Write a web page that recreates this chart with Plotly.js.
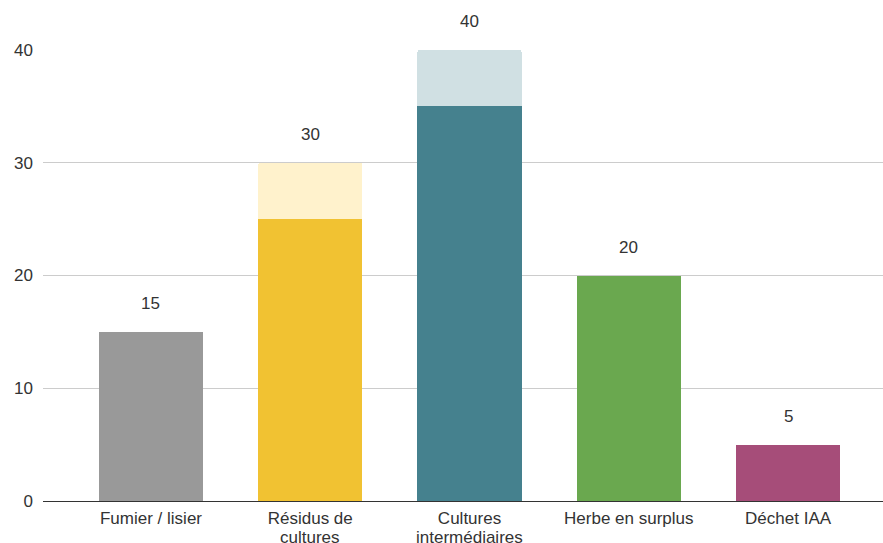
<!DOCTYPE html>
<html><head><meta charset="utf-8">
<script src="https://cdn.plot.ly/plotly-3.0.1.min.js"></script>
<style>body{margin:0;background:#fff}#chart{width:883px;height:543px}</style>
</head><body><div id="chart"></div>
<script>
const categories = ["Fumier / lisier", "Résidus de<br>cultures", "Cultures<br>intermédiaires", "Herbe en surplus", "Déchet IAA"];
const baseValues = [15, 25, 35, 20, 5];
const extraValues = [0, 5, 5, 0, 0];
const baseColors = ["#999999", "#f1c232", "#45818e", "#6aa84f", "#a64d79"];
const extraColors = ["#e0e0e0", "#fff2cc", "#d0e0e3", "#d9ead3", "#ead1dc"];
const totals = baseValues.map((v, i) => v + extraValues[i]);

const FONT = "Liberation Sans, Arial";
const traces = [
  {type: "bar", x: categories, y: baseValues, marker: {color: baseColors}, hoverinfo: "skip"},
  {type: "bar", x: categories, y: extraValues, marker: {color: extraColors}, hoverinfo: "skip"}
];
const annotations = categories.map((c, i) => ({
  x: c, y: totals[i], text: String(totals[i]), showarrow: false,
  yanchor: "bottom", yshift: 17, font: {family: FONT, size: 17, color: "#333333"}
}));
// second lines of the two-line category labels (tighter line spacing than Plotly's default)
categories.forEach(c => {
  const parts = c.split("<br>");
  if (parts.length > 1) {
    annotations.push({x: c, y: 0, text: parts[1], showarrow: false, yanchor: "middle", yshift: -36,
      borderpad: 0, font: {family: FONT, size: 17, color: "#333333"}});
  }
});
const layout = {
  width: 883, height: 543,
  margin: {l: 43, r: 0, t: 50, b: 42},
  paper_bgcolor: "#ffffff", plot_bgcolor: "#ffffff",
  barmode: "stack", bargap: 0.346, barcornerradius: 2,
  showlegend: false,
  font: {family: FONT, size: 17, color: "#333333"},
  xaxis: {range: [-0.678, 4.596], showgrid: false, showline: true, linecolor: "#333333", linewidth: 1,
          tickmode: "array", tickvals: categories, ticktext: categories.map(c => c.split("<br>")[0]),
          ticks: "", ticklabelstandoff: 2, tickfont: {size: 17, color: "#333333"}, fixedrange: true},
  yaxis: {range: [0, 40], tickvals: [0, 10, 20, 30, 40], gridcolor: "#cccccc", gridwidth: 1,
          zeroline: false, showline: false, ticks: "", ticklabelstandoff: 9,
          tickfont: {size: 17, color: "#333333"}, fixedrange: true},
  annotations: annotations
};
Plotly.newPlot("chart", traces, layout, {staticPlot: true, displayModeBar: false});
</script></body></html>
